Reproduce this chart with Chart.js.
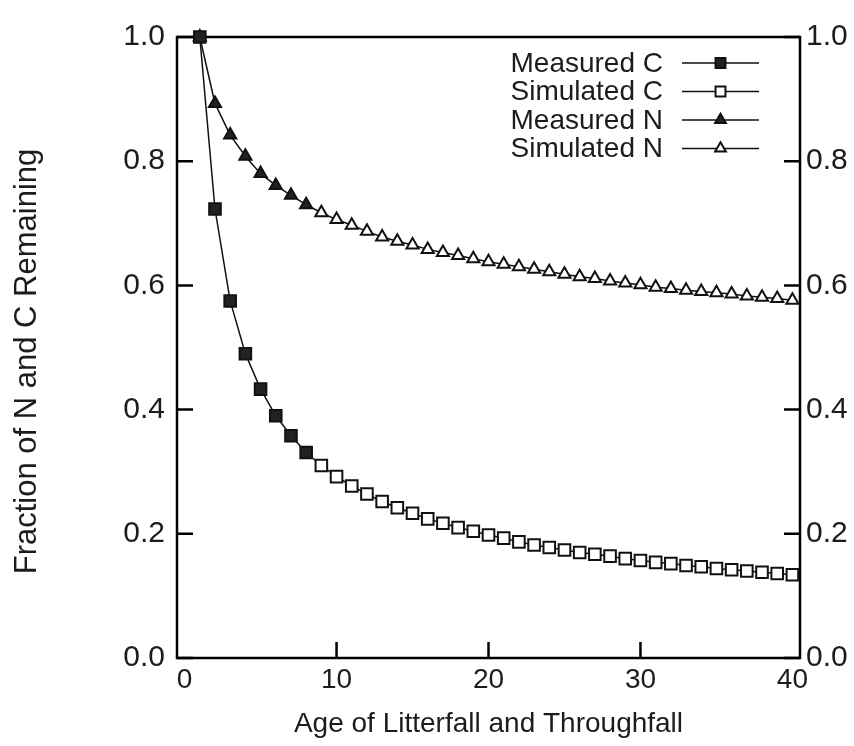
<!DOCTYPE html>
<html>
<head>
<meta charset="utf-8">
<script src="https://cdn.jsdelivr.net/npm/chart.js@4/dist/chart.umd.min.js"></script>
<style>
  html, body { margin: 0; padding: 0; background: #fff; }
  canvas { display: block; }
</style>
</head>
<body>
<canvas id="decay" width="854" height="746"></canvas>
<script>
  // ages (years) with measurements, then the simulated continuation
  const measuredAges = [1, 2, 3, 4, 5, 6, 7, 8];
  const simulatedAges = [9, 10, 11, 12, 13, 14, 15, 16, 17, 18, 19, 20, 21, 22, 23, 24,
    25, 26, 27, 28, 29, 30, 31, 32, 33, 34, 35, 36, 37, 38, 39, 40];

  const measuredC = [1.0, 0.723, 0.575, 0.490, 0.433, 0.390, 0.358, 0.331];
  const simulatedC = [0.310, 0.292, 0.277, 0.264, 0.252, 0.242, 0.233, 0.224, 0.217, 0.210,
    0.204, 0.198, 0.193, 0.187, 0.182, 0.178, 0.174, 0.170, 0.167, 0.164, 0.160, 0.157,
    0.154, 0.152, 0.149, 0.147, 0.144, 0.142, 0.140, 0.138, 0.136, 0.134];

  const measuredN = [1.0, 0.893, 0.842, 0.808, 0.780, 0.761, 0.745, 0.730];
  const simulatedN = [0.717, 0.706, 0.697, 0.687, 0.678, 0.671, 0.665, 0.658, 0.653, 0.648,
    0.643, 0.638, 0.634, 0.630, 0.626, 0.622, 0.618, 0.614, 0.611, 0.607, 0.604, 0.601,
    0.597, 0.595, 0.592, 0.590, 0.588, 0.586, 0.583, 0.581, 0.579, 0.576];

  const xTicks = [0, 10, 20, 30, 40];
  const yTicks = [0.0, 0.2, 0.4, 0.6, 0.8, 1.0];
  const yTitle = "Fraction of N and C Remaining";

  const FONT = "'Liberation Sans', Arial, Helvetica, sans-serif";
  const INK = "#1c1c1c";

  function pts(xs, ys) {
    return xs.map((x, i) => ({ x: x, y: ys[i] }));
  }

  // simulated curves start from the last measured point so the line is continuous
  function continued(lastX, lastY, xs, ys) {
    return [{ x: lastX, y: lastY }].concat(pts(xs, ys));
  }

  function series(label, data, style, filled, radius, skipFirst) {
    return {
      label: label,
      data: data,
      borderColor: "#111",
      borderWidth: 1.5,
      pointStyle: style,
      pointRadius: skipFirst ? (c) => (c.dataIndex === 0 ? 0 : radius) : radius,
      pointBorderWidth: 2,
      pointBorderColor: "#111",
      pointBackgroundColor: filled ? "#222" : "#fff",
      pointHoverRadius: radius,
      tension: 0,
      clip: false,
    };
  }

  const lastM = measuredAges.length - 1;
  const datasets = [
    series("Measured C", pts(measuredAges, measuredC), "rect", true, 8.2, false),
    series("Simulated C", continued(measuredAges[lastM], measuredC[lastM], simulatedAges, simulatedC), "rect", false, 8.2, true),
    series("Measured N", pts(measuredAges, measuredN), "triangle", true, 7, false),
    series("Simulated N", continued(measuredAges[lastM], measuredN[lastM], simulatedAges, simulatedN), "triangle", false, 7, true),
  ];

  // frame round the plot plus inward tick marks
  const framePlugin = {
    id: "frame",
    beforeDatasetsDraw(chart) {
      const { ctx, chartArea: a, scales } = chart;
      const tl = 16;
      ctx.save();
      ctx.strokeStyle = "#000";
      ctx.lineWidth = 2.5;
      ctx.strokeRect(a.left, a.top, a.right - a.left, a.bottom - a.top);
      ctx.beginPath();
      yTicks.forEach((v) => {
        const y = scales.y.getPixelForValue(v);
        ctx.moveTo(a.left, y); ctx.lineTo(a.left + tl, y);
        ctx.moveTo(a.right, y); ctx.lineTo(a.right - tl, y);
      });
      xTicks.slice(1, -1).forEach((v) => {
        const x = scales.x.getPixelForValue(v);
        ctx.moveTo(x, a.bottom); ctx.lineTo(x, a.bottom - tl);
      });
      ctx.stroke();

      // vertical axis title, sitting a little below the plot's middle
      ctx.translate(27, (a.top + a.bottom) / 2 + 14);
      ctx.rotate(-Math.PI / 2);
      ctx.font = "31px " + FONT;
      ctx.fillStyle = INK;
      ctx.textAlign = "center";
      ctx.textBaseline = "middle";
      ctx.fillText(yTitle, 0, 0);
      ctx.restore();
    },
  };

  // legend in the upper right: label, then a line sample with the marker
  const legendPlugin = {
    id: "sideLegend",
    afterDraw(chart) {
      const { ctx, chartArea: a } = chart;
      ctx.save();
      ctx.font = "28px " + FONT;
      ctx.textAlign = "right";
      ctx.textBaseline = "middle";
      chart.data.datasets.forEach((ds, i) => {
        const y = a.top + 26 + i * 28.5;
        const x0 = a.right - 118, x1 = a.right - 41, xm = (x0 + x1) / 2;
        ctx.fillStyle = INK;
        ctx.fillText(ds.label, a.right - 137, y + 1);
        ctx.strokeStyle = "#111";
        ctx.lineWidth = 1.5;
        ctx.beginPath();
        ctx.moveTo(x0, y); ctx.lineTo(x1, y);
        ctx.stroke();
        ctx.fillStyle = ds.pointBackgroundColor;
        ctx.lineWidth = 2;
        const r = ds.pointStyle === "rect" ? 7 : 6.2;
        Chart.helpers.drawPoint(ctx, { pointStyle: ds.pointStyle, radius: r, rotation: 0, borderWidth: 2 }, xm, y);
      });
      ctx.restore();
    },
  };

  const xFont = { family: FONT, size: 28 };
  const yFont = { family: FONT, size: 30 };

  new Chart(document.getElementById("decay"), {
    type: "line",
    data: { datasets: datasets },
    options: {
      responsive: false,
      animation: false,
      layout: { padding: { top: 37, left: 0, right: 0, bottom: 0 } },
      plugins: { legend: { display: false }, tooltip: { enabled: false } },
      scales: {
        x: {
          type: "linear",
          min: -0.5,
          max: 40.5,
          afterBuildTicks: (s) => { s.ticks = xTicks.map((v) => ({ value: v })); },
          afterFit: (s) => { s.height = 88; },
          grid: { display: false, drawTicks: false },
          border: { display: false },
          ticks: { font: xFont, color: INK, padding: 5, maxRotation: 0, callback: (v) => String(v) },
          title: {
            display: true,
            text: "Age of Litterfall and Throughfall",
            font: xFont,
            color: INK,
            padding: { top: 0, bottom: 5 },
          },
        },
        y: {
          position: "left",
          min: 0,
          max: 1,
          afterBuildTicks: (s) => { s.ticks = yTicks.map((v) => ({ value: v })); },
          afterFit: (s) => { s.width = 177; },
          grid: { display: false, drawTicks: false },
          border: { display: false },
          ticks: { font: yFont, color: INK, padding: 12, callback: (v) => v.toFixed(1) },
        },
        y2: {
          position: "right",
          min: 0,
          max: 1,
          afterBuildTicks: (s) => { s.ticks = yTicks.map((v) => ({ value: v })); },
          afterFit: (s) => { s.width = 54; },
          grid: { display: false, drawTicks: false },
          border: { display: false },
          ticks: { font: yFont, color: INK, padding: 6, callback: (v) => v.toFixed(1) },
        },
      },
    },
    plugins: [framePlugin, legendPlugin],
  });
</script>
</body>
</html>
